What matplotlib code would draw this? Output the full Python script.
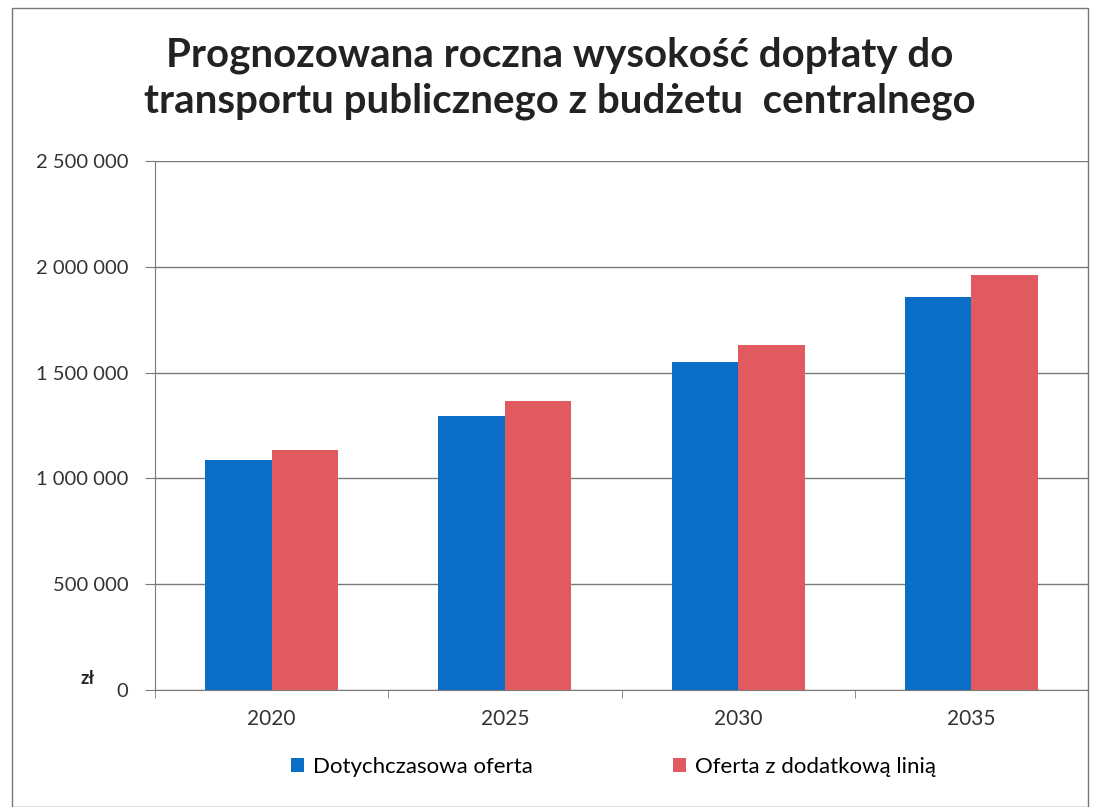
import numpy as np
import matplotlib.pyplot as plt
from matplotlib.patches import Rectangle
from matplotlib.ticker import FuncFormatter

years = ["2020", "2025", "2030", "2035"]
dotychczasowa = [1085000, 1295000, 1550000, 1855000]
dodatkowa = [1135000, 1365000, 1630000, 1960000]
series_names = ["Dotychczasowa oferta", "Oferta z dodatkową linią"]

plt.rcParams["font.family"] = ["Lato", "DejaVu Sans"]

fig = plt.figure(figsize=(10.99, 8.07), dpi=100)
ax = fig.add_axes([155 / 1099, 1 - 690 / 807, 933 / 1099, 529 / 807])

# outer chart frame like the scanned page
fig.patches.append(Rectangle((12 / 1099, 0.0), (1088 - 12) / 1099, 1 - 8 / 807,
                             transform=fig.transFigure, fill=False,
                             edgecolor="#777777", linewidth=1.0))

x = np.arange(len(years))
w = 0.285
ax.bar(x - w / 2, dotychczasowa, width=w, color="#0A6EC6", label=series_names[0], zorder=3)
ax.bar(x + w / 2, dodatkowa, width=w, color="#E05A60", label=series_names[1], zorder=3)

ax.set_xlim(-0.5, len(years) - 0.5)
ax.set_ylim(0, 2500000)
ax.set_yticks(np.arange(0, 2500001, 500000))
ax.yaxis.set_major_formatter(FuncFormatter(lambda v, p: f"{int(v):,}".replace(",", " ")))
ax.grid(axis="y", color="#7a7a7a", linewidth=1.0, zorder=0)

ax.set_xticks(x)
ax.set_xticklabels(years)
ax.set_xticks(np.arange(-0.5, len(years), 1.0), minor=True)
ax.tick_params(axis="x", which="major", length=0, pad=14, labelsize=15, colors="#333333")
ax.tick_params(axis="x", which="minor", length=6, color="#7a7a7a")
ax.tick_params(axis="y", length=7, color="#7a7a7a", labelsize=14.5, pad=12, labelcolor="#333333")

for s in ["top", "right"]:
    ax.spines[s].set_visible(False)
for s in ["left", "bottom"]:
    ax.spines[s].set_color("#7a7a7a")

ax.text(-0.065, 0.005, "zł", transform=ax.transAxes, ha="right", va="bottom",
        fontsize=13, fontweight="bold", color="#222222")

fig.text(0.509, 1 - 78 / 807,
         "Prognozowana roczna wysokość dopłaty do\ntransportu publicznego z budżetu  centralnego",
         ha="center", va="center", fontsize=29, fontweight="bold", color="#222222",
         linespacing=1.28)

fig.legend(loc="center", bbox_to_anchor=(0.558, 1 - 767 / 807), ncol=2, frameon=False,
           fontsize=16, handlelength=0.6, handleheight=0.6, handletextpad=0.4,
           columnspacing=6.3)

fig.savefig("out.png", dpi=100)
